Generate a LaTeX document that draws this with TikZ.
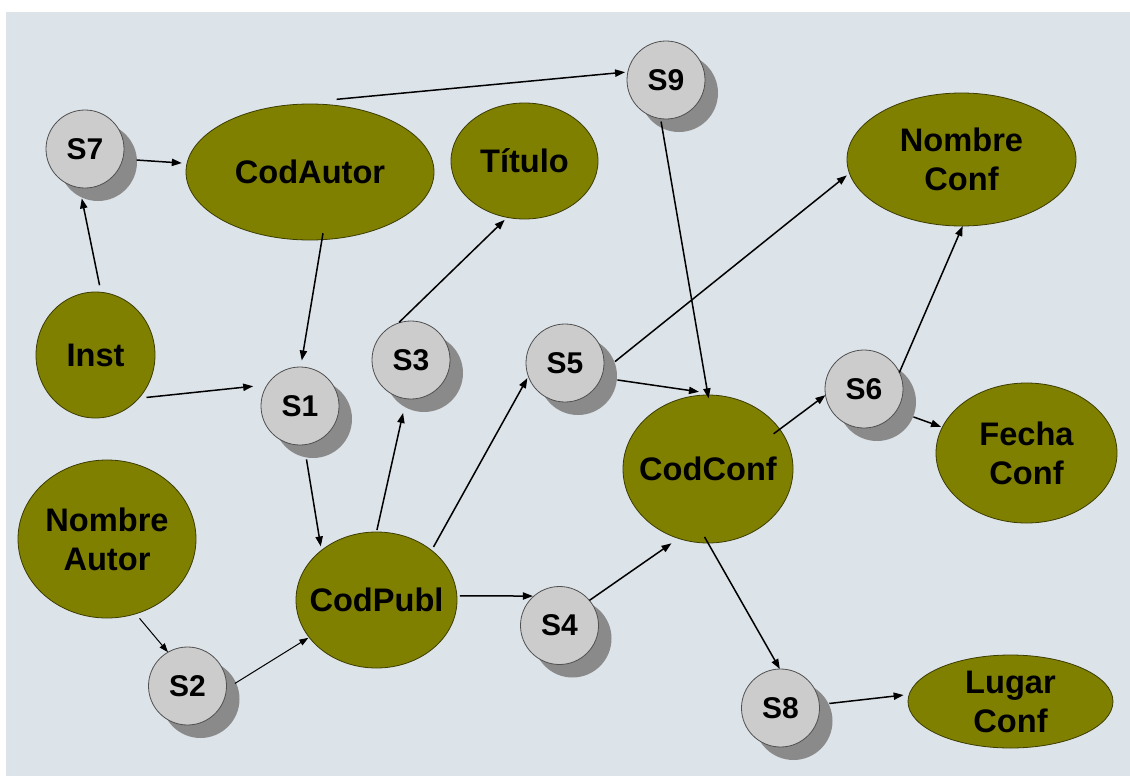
\documentclass[tikz,border=0pt]{standalone}
\usepackage{fontspec}
\setmainfont{Liberation Sans}
\usetikzlibrary{shapes.geometric,arrows.meta,shadows}
\definecolor{bgc}{RGB}{220,227,233}
\definecolor{olivef}{RGB}{128,128,0}
\definecolor{oliveb}{RGB}{60,60,0}
\definecolor{cfill}{RGB}{204,204,204}
\definecolor{cdraw}{RGB}{80,80,80}
\definecolor{shgray}{RGB}{138,138,138}
\begin{document}
\begin{tikzpicture}[x=0.5pt,y=-0.5pt,
  attr/.style={ellipse, fill=olivef, draw=oliveb, line width=0.4pt, inner sep=0pt, outer sep=0pt},
  sbox/.style={circle, fill=cfill, draw=cdraw, line width=0.4pt, minimum size=39pt, inner sep=0pt, outer sep=0pt,
    font=\fontsize{15}{18}\selectfont\bfseries,
    general shadow={fill=shgray, shadow xshift=6.5pt, shadow yshift=-6.5pt}},
  lbl/.style={font=\fontsize{16.3}{19.5}\selectfont\bfseries, align=center},
  arr/.style={-{Triangle[length=5pt,width=3.6pt]}, line width=0.75pt},
  thinarr/.style={-{Triangle[length=4.5pt,width=3.2pt]}, line width=0.5pt},
]
\fill[white] (0,0) rectangle (1130,776);
\fill[bgc] (6,12) rectangle (1130,776);
\useasboundingbox (0,0) rectangle (1130,776);

% attribute ellipses
\node[attr, minimum width=124pt, minimum height=68pt, label={[lbl]center:CodAutor}] (CodAutor) at (310,172) {};
\node[attr, minimum width=73.5pt, minimum height=58pt, label={[lbl]center:Título}] (Titulo) at (524.5,161) {};
\node[attr, minimum width=114.5pt, minimum height=66.5pt, label={[lbl]center:{Nombre\\Conf}}] (NombreConf) at (961.5,159.5) {};
\node[attr, minimum width=59.5pt, minimum height=63pt, label={[lbl]center:Inst}] (Inst) at (95.5,355) {};
\node[attr, minimum width=85pt, minimum height=74pt, label={[lbl]center:CodConf}] (CodConf) at (708,469) {};
\node[attr, minimum width=90.5pt, minimum height=70pt, label={[lbl]center:{Fecha\\Conf}}] (FechaConf) at (1026.5,453) {};
\node[attr, minimum width=89pt, minimum height=79pt, label={[lbl]center:{Nombre\\Autor}}] (NombreAutor) at (107,539) {};
\node[attr, minimum width=80.5pt, minimum height=68pt, label={[lbl]center:CodPubl}] (CodPubl) at (376.5,600) {};
\node[attr, minimum width=102.5pt, minimum height=46.5pt, label={[lbl]center:{Lugar\\Conf}}] (LugarConf) at (1010.5,701.5) {};

% S nodes
\node[sbox] (S7) at (85,149) {S7};
\node[sbox] (S9) at (666,80) {S9};
\node[sbox] (S1) at (300,406) {S1};
\node[sbox] (S3) at (411,360) {S3};
\node[sbox] (S5) at (565,363) {S5};
\node[sbox] (S6) at (864,389) {S6};
\node[sbox] (S4) at (559.5,625.5) {S4};
\node[sbox] (S2) at (187.5,686) {S2};
\node[sbox] (S8) at (780.5,708) {S8};

% connectors
\draw[arr, shorten <=3.6pt, shorten >=5.5pt] (Inst.85) -- (S7.262);
\draw[arr, shorten <=7pt, shorten >=2.6pt] (S7.345) -- (CodAutor.176);
\draw[arr, shorten >=1.4pt] ([xshift=1.2pt,yshift=3pt]CodAutor.70) -- (S9.168);
\draw[arr, shorten <=-3.25pt, shorten >=3.3pt] (CodAutor.280) -- (S1.89);
\draw[arr, shorten <=3.9pt, shorten >=7.1pt] (Inst.315) -- (S1.147);
\draw[arr, shorten <=7.4pt, shorten >=2pt] (S1.276) -- (CodPubl.138);
\draw[arr, shorten <=1pt, shorten >=7.3pt] (CodPubl.90) -- (S3.263);
\draw[arr, shorten <=0.5pt, shorten >=1.8pt] (S3.109) -- (Titulo.253);
\draw[thinarr, shorten <=3pt] (NombreAutor.291) -- (S2.120);
\draw[thinarr, shorten <=5pt, shorten >=0.5pt] (S2.356) -- (CodPubl.209);
\draw[arr, shorten <=1.5pt, shorten >=0.5pt] (CodPubl.3) -- (S4.131);
\draw[arr, shorten <=2pt, shorten >=1pt] (CodPubl.42) -- (S5.200);
\draw[arr, shorten <=7.6pt, shorten >=1.7pt] (S5.348) -- (NombreConf.187);
\draw[arr, shorten <=8.2pt] (S5.338) -- ([yshift=1.8pt]CodConf.97);
\draw[arr, shorten <=1.5pt, shorten >=-1.7pt] (S9.262) -- (CodConf.90);
\draw[arr, shorten >=4.3pt] (S4.40) -- (CodConf.247);
\draw[arr, shorten <=-3.8pt] (CodConf.29) -- (S6.189);
\draw[arr] (S6.25) -- (NombreConf.271);
\draw[arr, shorten <=9.1pt, shorten >=0.7pt] (S6.326) -- (FechaConf.163);
\draw[arr, shorten <=-3.5pt] (CodConf.270) -- (S8.91);
\draw[arr, shorten <=5pt, shorten >=2.8pt] (S8.5) -- (LugarConf.176);
\end{tikzpicture}
\end{document}
